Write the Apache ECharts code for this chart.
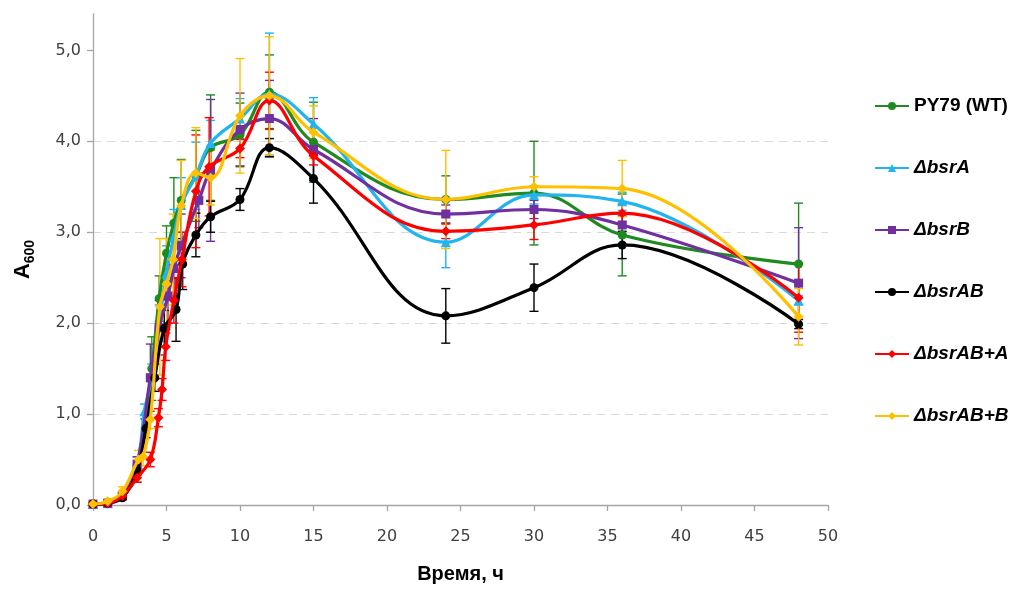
<!DOCTYPE html>
<html>
<head>
<meta charset="utf-8">
<script src="https://cdn.jsdelivr.net/npm/echarts@6/dist/echarts.min.js"></script>
<style>
  html, body { margin: 0; padding: 0; background: #fff; }
  #chart { width: 1016px; height: 589px; }
</style>
</head>
<body>
<div id="chart"></div>
<script>
// Growth curves (A600 vs time, h) with standard deviations
const wtTime  = [0, 1, 2, 3, 4, 4.5, 5, 5.5, 6, 7, 8, 10, 12, 15, 24, 30, 36, 48];
const wtA600  = [0.01, 0.03, 0.1, 0.35, 1.5, 2.27, 2.77, 3.1, 3.35, 3.62, 3.93, 4.07, 4.54, 3.99, 3.36, 3.43, 2.97, 2.65];
const wtErr   = [0.01, 0.01, 0.03, 0.1, 0.35, 0.25, 0.3, 0.5, 0.45, 0.5, 0.58, 0.35, 0.41, 0.44, 0.26, 0.57, 0.45, 0.67];

const aTime   = [0, 1, 2, 3, 3.5, 4, 4.5, 5, 5.5, 6, 7, 8, 10, 12, 15, 24, 30, 36, 48];
const aA600   = [0.01, 0.02, 0.12, 0.45, 1.03, 1.4, 2.0, 2.55, 2.95, 3.3, 3.62, 3.98, 4.25, 4.52, 4.19, 2.89, 3.41, 3.34, 2.25];
const aErr    = [0.01, 0.01, 0.03, 0.08, 0.08, 0.15, 0.2, 0.3, 0.3, 0.3, 0.37, 0.25, 0.22, 0.67, 0.29, 0.28, 0.1, 0.1, 0.05];

const bTime   = [0, 1, 2, 3, 3.9, 4.5, 5.1, 5.5, 6, 7.2, 8, 10, 12, 15, 24, 30, 36, 48];
const bA600   = [0.01, 0.02, 0.1, 0.45, 1.4, 1.95, 2.3, 2.6, 2.85, 3.35, 3.68, 4.13, 4.25, 3.91, 3.2, 3.25, 3.08, 2.44];
const bErr    = [0.01, 0.01, 0.03, 0.08, 0.37, 0.3, 0.3, 0.3, 0.35, 0.3, 0.78, 0.4, 0.42, 0.34, 0.1, 0.1, 0.1, 0.61];

const abTime  = [0, 1, 2, 3, 3.6, 4.2, 4.85, 5.65, 6.1, 7, 8, 10, 12, 15, 24, 30, 36, 48];
const abA600  = [0.01, 0.02, 0.08, 0.38, 0.84, 1.4, 1.94, 2.15, 2.65, 2.97, 3.17, 3.36, 3.93, 3.59, 2.08, 2.39, 2.86, 1.99];
const abErr   = [0.01, 0.01, 0.02, 0.05, 0.1, 0.15, 0.2, 0.35, 0.28, 0.24, 0.17, 0.12, 0.1, 0.27, 0.3, 0.26, 0.15, 0.05];

const abaTime = [0, 1, 2, 3, 3.9, 4.45, 4.7, 4.95, 5.5, 6.05, 7, 7.9, 10, 12, 15, 24, 30, 36, 48];
const abaA600 = [0.01, 0.02, 0.1, 0.3, 0.5, 0.96, 1.27, 1.74, 2.25, 2.7, 3.45, 3.72, 3.92, 4.45, 3.84, 3.01, 3.08, 3.21, 2.28];
const abaErr  = [0.01, 0.01, 0.03, 0.05, 0.08, 0.1, 0.12, 0.15, 0.25, 0.3, 0.62, 0.54, 0.1, 0.31, 0.1, 0.08, 0.16, 0.1, 0.38];

const abbTime = [0, 1, 2, 3.1, 3.4, 3.9, 4.55, 5, 5.45, 6, 7, 8, 10, 12, 15, 24, 30, 36, 48];
const abbA600 = [0.01, 0.04, 0.15, 0.5, 0.53, 0.94, 2.18, 2.43, 2.7, 3.29, 3.65, 3.6, 4.28, 4.5, 4.1, 3.36, 3.5, 3.48, 2.07];
const abbErr  = [0.01, 0.02, 0.05, 0.1, 0.1, 0.1, 0.75, 0.5, 0.5, 0.5, 0.5, 0.3, 0.63, 0.65, 0.29, 0.54, 0.11, 0.31, 0.31];

const xTicks = [0, 5, 10, 15, 20, 25, 30, 35, 40, 45, 50];
const yTicks = [0, 1, 2, 3, 4, 5];

const strains = [
  { name: 'PY79 (WT)', t: wtTime,  y: wtA600,  e: wtErr,  color: '#1f8a1f', symbol: 'circle',   size: 9 },
  { name: 'ΔbsrA',     t: aTime,   y: aA600,   e: aErr,   color: '#21b4ee', symbol: 'triangle', size: 10 },
  { name: 'ΔbsrB',     t: bTime,   y: bA600,   e: bErr,   color: '#7030a0', symbol: 'rect',     size: 9 },
  { name: 'ΔbsrAB',    t: abTime,  y: abA600,  e: abErr,  color: '#000000', symbol: 'circle',   size: 9 },
  { name: 'ΔbsrAB+A',  t: abaTime, y: abaA600, e: abaErr, color: '#ff0000', symbol: 'diamond',  size: 10 },
  { name: 'ΔbsrAB+B',  t: abbTime, y: abbA600, e: abbErr, color: '#ffc000', symbol: 'diamond',  size: 10 }
];

const fmtComma = v => v.toFixed(1).replace('.', ',');
const boldFont = 'Liberation Sans';

function errorBarSeries(s) {
  return {
    type: 'custom',
    name: s.name + ' sd',
    z: 1,
    silent: true,
    data: s.t.map((t, i) => [t, s.y[i] - s.e[i], s.y[i] + s.e[i]]),
    encode: { x: 0, y: [1, 2] },
    renderItem: function (params, api) {
      const lo = api.coord([api.value(0), api.value(1)]);
      const hi = api.coord([api.value(0), api.value(2)]);
      const cap = 4.5;
      const style = { stroke: s.color, lineWidth: 1.4 };
      return {
        type: 'group',
        children: [
          { type: 'line', shape: { x1: lo[0], y1: lo[1], x2: hi[0], y2: hi[1] }, style },
          { type: 'line', shape: { x1: hi[0] - cap, y1: hi[1], x2: hi[0] + cap, y2: hi[1] }, style },
          { type: 'line', shape: { x1: lo[0] - cap, y1: lo[1], x2: lo[0] + cap, y2: lo[1] }, style }
        ]
      };
    }
  };
}

function lineSeries(s, idx) {
  return {
    type: 'line',
    name: s.name,
    z: 2 + idx,
    data: s.t.map((t, i) => [t, s.y[i]]),
    smooth: 0.4,
    symbol: s.symbol,
    symbolSize: s.size,
    showAllSymbol: true,
    color: s.color,
    lineStyle: { width: 3.2, color: s.color },
    itemStyle: { color: s.color },
    emphasis: { disabled: true }
  };
}

const series = [];
strains.forEach(s => series.push(errorBarSeries(s)));
strains.forEach((s, i) => series.push(lineSeries(s, i)));

const chart = echarts.init(document.getElementById('chart'), null, { renderer: 'canvas' });
chart.setOption({
  animation: false,
  backgroundColor: '#ffffff',
  textStyle: { fontFamily: 'DejaVu Sans' },
  grid: { left: 93, right: 188, top: 14, bottom: 79, containLabel: false },
  legend: {
    data: strains.map(s => s.name),
    orient: 'vertical',
    left: 869,
    top: 90,
    padding: 5,
    itemWidth: 34,
    itemHeight: 10,
    itemGap: 40,
    selectedMode: false,
    formatter: name => name === 'PY79 (WT)' ? '{n|' + name + '}' : '{i|' + name + '}',
    textStyle: {
      fontFamily: boldFont,
      fontSize: 19,
      fontWeight: 'bold',
      color: '#000',
      lineHeight: 22,
      rich: {
        n: { fontFamily: boldFont, fontSize: 19, fontWeight: 'bold', color: '#000' },
        i: { fontFamily: boldFont, fontSize: 19, fontWeight: 'bold', fontStyle: 'italic', color: '#000' }
      }
    }
  },
  xAxis: {
    type: 'value',
    min: xTicks[0],
    max: xTicks[xTicks.length - 1],
    interval: 5,
    name: 'Время, ч',
    nameLocation: 'middle',
    nameGap: 59,
    nameTextStyle: { fontFamily: boldFont, fontSize: 20, fontWeight: 'bold', color: '#000' },
    axisLine: { lineStyle: { color: '#a6a6a6', width: 1.3 } },
    axisTick: { show: true, inside: false, length: 6, lineStyle: { color: '#a6a6a6', width: 1.3 } },
    axisLabel: { fontSize: 16, color: '#404040', margin: 24, fontFamily: 'DejaVu Sans' },
    splitLine: { show: false }
  },
  yAxis: {
    type: 'value',
    min: yTicks[0],
    max: 5.4,
    interval: 1,
    name: '{a|A}{s|600}',
    nameLocation: 'middle',
    nameRotate: 90,
    nameGap: 56,
    nameTextStyle: {
      rich: {
        a: { fontFamily: boldFont, fontSize: 22, fontWeight: 'bold', color: '#000' },
        s: { fontFamily: boldFont, fontSize: 14, fontWeight: 'bold', color: '#000', padding: [14, 0, 0, 0] }
      }
    },
    axisLine: { show: true, lineStyle: { color: '#a6a6a6', width: 1.3 } },
    axisTick: {
      show: true, inside: false, length: 6,
      lineStyle: { color: '#a6a6a6', width: 1.3 },
      customValues: yTicks
    },
    axisLabel: {
      fontSize: 16, color: '#404040', margin: 12, fontFamily: 'DejaVu Sans',
      customValues: yTicks,
      formatter: v => fmtComma(v)
    },
    splitLine: {
      show: true,
      showMinLine: false,
      showMaxLine: false,
      lineStyle: { color: '#d9d9d9', type: [8, 6], width: 1.2 }
    }
  },
  series: series
});
</script>
</body>
</html>
